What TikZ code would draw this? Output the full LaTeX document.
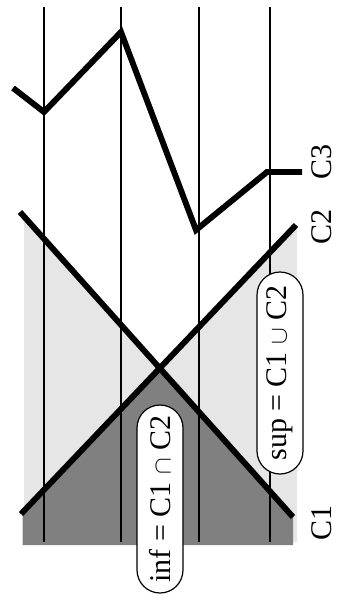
\documentclass[tikz,border=0pt]{standalone}
\usepackage{fontspec}
\setmainfont{Liberation Serif}
\definecolor{supgray}{HTML}{E6E6E6}
\definecolor{infgray}{HTML}{808080}
\begin{document}
\begin{tikzpicture}[x=1pt,y=-1pt,
  thickline/.style={line width=5.9pt},
  gridline/.style={line width=1.1pt},
  lbl/.style={rotate=90,font=\fontsize{30}{36}\selectfont,inner sep=0pt},
  setbox/.style={lbl,draw,line width=1.2pt,fill=white,rounded corners=23pt,minimum height=46pt}]
\useasboundingbox (0,0) rectangle (344,614);
\coordinate (A1) at (20,212);
\coordinate (B1) at (293,517);
\coordinate (A2) at (21,514);
\coordinate (B2) at (296,225);
\coordinate (X) at (intersection of A1--B1 and A2--B2);
% sup region
\fill[supgray] (24,216.5) -- (X) -- (297,224.9) -- (297,542) -- (24,542) -- cycle;
% inf region
\fill[infgray] (22.5,512.4) -- (X) -- (293,517) -- (293,545) -- (22.5,545) -- cycle;
% grid lines
\foreach \x in {44,121,199,270} \draw[gridline] (\x,7) -- (\x,542);
% curves
\draw[thickline] (A1) -- (B1);
\draw[thickline] (A2) -- (B2);
\draw[thickline] (13,88) -- (44,112) -- (121,32) -- (196,230) -- (267,172) -- (302,172);
% labels
\node[lbl] (c3) at (322,162) {C3};
\node[lbl] (c2) at (322,227) {C2};
\node[lbl] (c1) at (322,523) {C1};
\node[setbox,minimum width=188pt] (inf) at (160,499) {inf = C1 $\cap$ C2};
\node[setbox,minimum width=202pt] (sup) at (280,373) {sup = C1 $\cup$ C2};
\end{tikzpicture}
\end{document}
